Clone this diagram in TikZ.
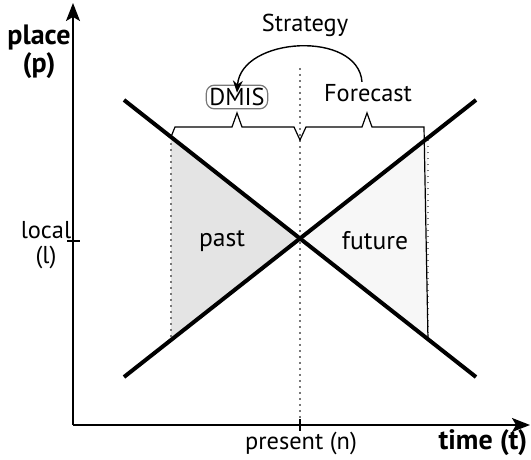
\documentclass[tikz,border=0pt]{standalone}
\usepackage{fontspec}
\setmainfont{PT Sans}
\usetikzlibrary{arrows.meta,positioning,calc}
\definecolor{pastGray}{RGB}{228,228,228}
\definecolor{futureGray}{RGB}{247,247,247}
\definecolor{dotGray}{RGB}{120,120,120}
\tikzset{
  axis/.style={line width=0.8pt, -{Stealth[length=9pt,width=7pt,inset=2pt]}},
  xline/.style={line width=2pt},
  dotline/.style={dotGray, line width=0.8pt, dash pattern=on 0.8pt off 2.2pt},
  lbl/.style={font=\fontsize{12.2}{12.5}\selectfont, inner sep=1pt, align=center},
  boldlbl/.style={lbl, font=\fontsize{14}{12.5}\selectfont\bfseries},
  biglbl/.style={lbl, font=\fontsize{12.8}{14}\selectfont},
  brace/.style={line width=0.6pt, line join=miter}
}
\begin{document}
\begin{tikzpicture}[x=0.5pt, y=-0.5pt]
\useasboundingbox (0,0) rectangle (531,460);
% axes
\coordinate (O) at (73,425);
\coordinate (ytop) at (73,3);
\coordinate (xend) at (530,425);
% the two crossing lines
\coordinate (TL) at (124,100);
\coordinate (BR) at (476,377);
\coordinate (BL) at (124,377);
\coordinate (TR) at (476,100);
\coordinate (X) at (300,238.5);
\coordinate (pastTop) at ($(TL)!0.1335!(BR)$);
\coordinate (pastBot) at ($(BL)!0.1335!(TR)$);
\coordinate (futTop) at ($(TL)!0.8636!(BR)$);
\coordinate (futBot) at ($(BL)!0.8636!(TR)$);
\fill[pastGray] (pastTop) -- (X) -- (pastBot) -- cycle;
\fill[futureGray] (futTop) -- (X) -- (futBot) -- cycle;
\draw[dotline] (pastTop) -- (pastBot);
\draw[dotline] (futTop) -- (futBot);
\draw[dotline] (300,68) -- (300,420);
\draw[xline] (TL) -- (BR);
\draw[xline] (BL) -- (TR);
\draw[axis] (O) -- (ytop);
\draw[axis] (O) -- (xend);
% ticks
\draw[line width=0.8pt] (67,241) -- (80,241);
\draw[line width=0.8pt] (300,419) -- (300,431);
% braces
\draw[brace] (pastTop) -- (175,127) -- (232,127) -- (237,113) -- (242,127) -- (294,127)
  -- (300,140) -- (306,127) -- (362,127) -- (367,113) -- (372,127) -- (424,127) -- (futTop);
% labels
\node[boldlbl] (place) at (39,52) {place\\(p)};
\node[lbl] (local) at (46,245) {local\\(l)};
\node[lbl] (present) at (301,443) {present (n)};
\node[boldlbl] (time) at (483,443) {time (t)};
\node[biglbl] (past) at (222,241) {past};
\node[biglbl] (future) at (375,241) {future};
\node[lbl, draw=dotGray, rounded corners=4pt, inner sep=1.5pt, line width=0.6pt] (dmis) at (237,97) {DMIS};
\node[lbl] (fcast) at (368,93) {Forecast};
\node[lbl] (strat) at (305,25) {Strategy};
\draw[line width=0.7pt, -{Stealth[length=6pt,width=5pt]}]
  ([xshift=-3]fcast.north) .. controls +(-4,-52) and +(4,-56) .. ([yshift=-4]dmis.north);
\end{tikzpicture}
\end{document}
